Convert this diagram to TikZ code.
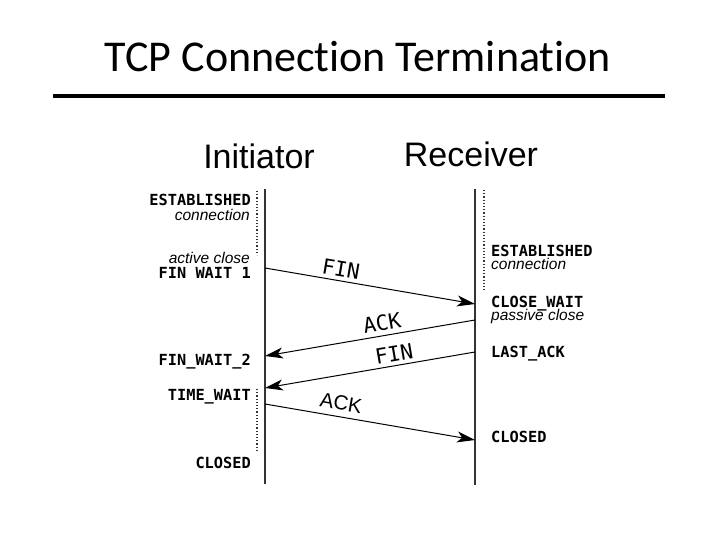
\documentclass[tikz,border=0pt]{standalone}
\usepackage{fontspec}
\usetikzlibrary{arrows.meta}
\newfontfamily\monofnt{DejaVu Sans Mono}
\newfontfamily\helvfnt{Liberation Sans}
\newfontfamily\titlefnt[Ligatures=NoCommon]{Carlito}
\begin{document}
\begin{tikzpicture}[x=1pt,y=-1pt,
  statelbl/.style={inner sep=0pt,font=\monofnt\bfseries\fontsize{15.3}{16}\selectfont},
  notelbl/.style={inner sep=0pt,font=\helvfnt\itshape\fontsize{15.5}{16}\selectfont},
  headlbl/.style={inner sep=0pt,font=\helvfnt\fontsize{34}{36}\selectfont},
  monomsg/.style={inner sep=0pt,font=\monofnt\fontsize{21}{22}\selectfont},
  sansmsg/.style={inner sep=0pt,font=\helvfnt\fontsize{20.5}{21}\selectfont},
  msgline/.style={-{Stealth[length=18pt,width=11pt,inset=5pt]},line width=1pt,black},
  timeline/.style={line width=1.6pt,black!80},
  dotline/.style={line width=1.2pt,dash pattern=on 1.2pt off 2pt,black!80}]
\useasboundingbox (0,0) rectangle (720,540);
% title
\node[inner sep=0pt,anchor=base,font=\titlefnt\fontsize{44}{48}\selectfont] (title) at (358,72) {TCP Connection Termination};
\coordinate (ruleL) at (53,96);
\coordinate (ruleR) at (665,96);
\draw[line width=4pt] (ruleL) -- (ruleR);
% headers
\node[headlbl,anchor=base] (init) at (259,169) {Initiator};
\node[headlbl,anchor=base] (recv) at (471,167) {Receiver};
% timelines
\coordinate (Lt) at (265,189);
\coordinate (Lb) at (265,484);
\coordinate (Rt) at (475,189);
\coordinate (Rb) at (475,485);
\draw[timeline] (Lt) -- (Lb);
\draw[timeline] (Rt) -- (Rb);
% dotted spans
\coordinate (d1a) at (257,191); \coordinate (d1b) at (257,255);
\coordinate (d2a) at (257,389); \coordinate (d2b) at (257,452);
\coordinate (d3a) at (484,190); \coordinate (d3b) at (484,292);
\draw[dotline] (d1a) -- (d1b);
\draw[dotline] (d2a) -- (d2b);
\draw[dotline] (d3a) -- (d3b);
% left states
\node[statelbl,anchor=base east] (lest) at (251,206) {ESTABLISHED};
\node[notelbl,anchor=base east] (lcon) at (250,221) {connection};
\node[notelbl,anchor=base east] (lact) at (250,263) {active close};
\node[statelbl,anchor=base east] (lfw1) at (251,278) {FIN WAIT 1};
\node[statelbl,anchor=base east] (lfw2) at (251,365) {FIN\_WAIT\_2};
\node[statelbl,anchor=base east] (ltw) at (251,400) {TIME\_WAIT};
\node[statelbl,anchor=base east] (lcl) at (251,468) {CLOSED};
% right states
\node[statelbl,anchor=base west] (rest) at (491,256) {ESTABLISHED};
\node[notelbl,anchor=base west] (rcon) at (491,269) {connection};
\node[statelbl,anchor=base west] (rcw) at (491,307) {CLOSE\_WAIT};
\node[notelbl,anchor=base west] (rpas) at (491,320) {passive close};
\node[statelbl,anchor=base west] (rla) at (491,357) {LAST\_ACK};
\node[statelbl,anchor=base west] (rcl) at (491,442) {CLOSED};
% messages
\coordinate (f1s) at (265,268); \coordinate (f1e) at (475,304);
\coordinate (a1s) at (475,320); \coordinate (a1e) at (265,356);
\coordinate (f2s) at (475,352); \coordinate (f2e) at (265,388);
\coordinate (a2s) at (265,404); \coordinate (a2e) at (475,440);
\draw[msgline] (f1s) -- (f1e);
\draw[msgline] (a1s) -- (a1e);
\draw[msgline] (f2s) -- (f2e);
\draw[msgline] (a2s) -- (a2e);
\node[monomsg,rotate=-9.7] (fin1) at (341,269) {FIN};
\node[monomsg,rotate=9.7] (ack1) at (382,323) {ACK};
\node[monomsg,rotate=9.7] (fin2) at (394,354) {FIN};
\node[sansmsg,rotate=-9.7] (ack2) at (341,403) {ACK};
\end{tikzpicture}
\end{document}
